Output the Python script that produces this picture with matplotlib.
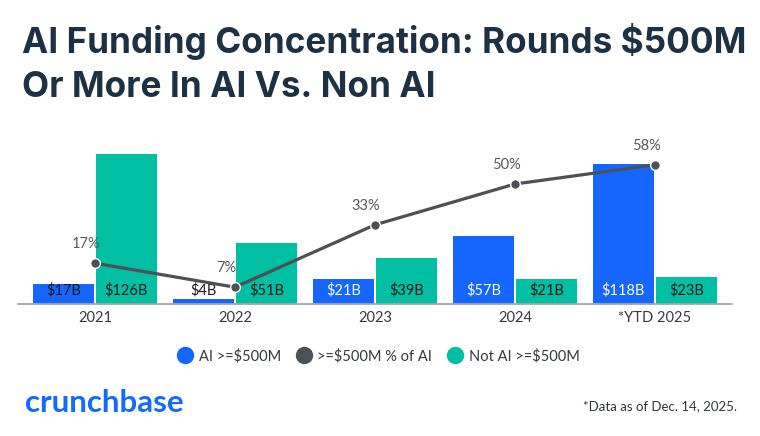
import numpy as np
import matplotlib.pyplot as plt
from matplotlib.lines import Line2D

years = ["2021", "2022", "2023", "2024", "*YTD 2025"]
ai_500m = [17, 4, 21, 57, 118]
not_ai_500m = [126, 51, 39, 21, 23]
pct_ai = [17, 7, 33, 50, 58]

blue = "#1565ff"
teal = "#00bfa2"
grey = "#4d5157"
navy = "#1c3144"
txt = "#333840"

plt.rcParams['font.family'] = ['Lato', 'DejaVu Sans']

fig = plt.figure(figsize=(7.6, 4.36), dpi=100)
ax = fig.add_axes([18 / 760, 1 - 304 / 436, 714 / 760, 164 / 436])
ax2 = ax.twinx()

x = np.arange(len(years))
w = 0.436
off = 0.225
ax.bar(x - off, ai_500m, w, color=blue, zorder=2)
ax.bar(x + off, not_ai_500m, w, color=teal, zorder=2)

ax.set_xlim(-0.55, 4.55)
ax.set_ylim(0, 164 / 1.19)
ax2.set_ylim(0, 164 / 2.40)

for xi, v in zip(x, ai_500m):
    c = "white" if v > 20 else "#1a1a1a"
    ax.annotate(f"${v}B", (xi - off, 0), xytext=(0, 14), textcoords="offset pixels",
                ha="center", va="center", color=c, fontsize=10.5, zorder=3)
for xi, v in zip(x, not_ai_500m):
    ax.annotate(f"${v}B", (xi + off, 0), xytext=(0, 14), textcoords="offset pixels",
                ha="center", va="center", color="#1a1a1a", fontsize=10.5, zorder=3)

ax2.plot(x, pct_ai, color=grey, lw=2.3, marker="o", ms=7, mfc=grey, mec="white",
         mew=1, zorder=4)
for xi, p in zip(x, pct_ai):
    ax2.annotate(f"{p}%", (xi, p), xytext=(-9, 19), textcoords="offset pixels",
                 ha="center", va="center", color="#555a60", fontsize=10.5)

for a in (ax, ax2):
    for s in ("top", "right", "left"):
        a.spines[s].set_visible(False)
    a.set_yticks([])
ax2.spines["bottom"].set_visible(False)
ax.spines["bottom"].set_color("#a3a7ab")
ax.spines["bottom"].set_linewidth(1.3)
ax.set_xticks(x)
ax.set_xticklabels(years, fontsize=10.5, color=txt)
ax.tick_params(axis="x", length=0, pad=5)

title_font = ['Inter', 'DejaVu Sans']
fig.text(22 / 760, 1 - 53 / 436, "AI Funding Concentration: Rounds $500M",
         fontsize=25.3, fontweight="bold", color=navy, va="baseline", family=title_font)
fig.text(22 / 760, 1 - 97 / 436, "Or More In AI Vs. Non AI",
         fontsize=25.3, fontweight="bold", color=navy, va="baseline", family=title_font)

handles = [
    Line2D([], [], ls="", marker="o", ms=11.5, color=blue),
    Line2D([], [], ls="", marker="o", ms=11.5, color=grey),
    Line2D([], [], ls="", marker="o", ms=11.5, color=teal),
]
fig.legend(handles, ["AI >=$500M", ">=$500M % of AI", "Not AI >=$500M"],
           loc="center", bbox_to_anchor=(379 / 760, 1 - 356 / 436), ncol=3,
           frameon=False, fontsize=10.5, handlelength=0.9, handletextpad=0.5,
           columnspacing=1.1, labelcolor=txt)

fig.text(25 / 760, 1 - 403 / 436, "crunchbase", fontsize=22.5, fontweight="bold",
         color="#146aff", va="center")
fig.text(737 / 760, 1 - 406 / 436, "*Data as of Dec. 14, 2025.", fontsize=9.5,
         color=txt, ha="right", va="center")

fig.savefig("out.png", dpi=100)
